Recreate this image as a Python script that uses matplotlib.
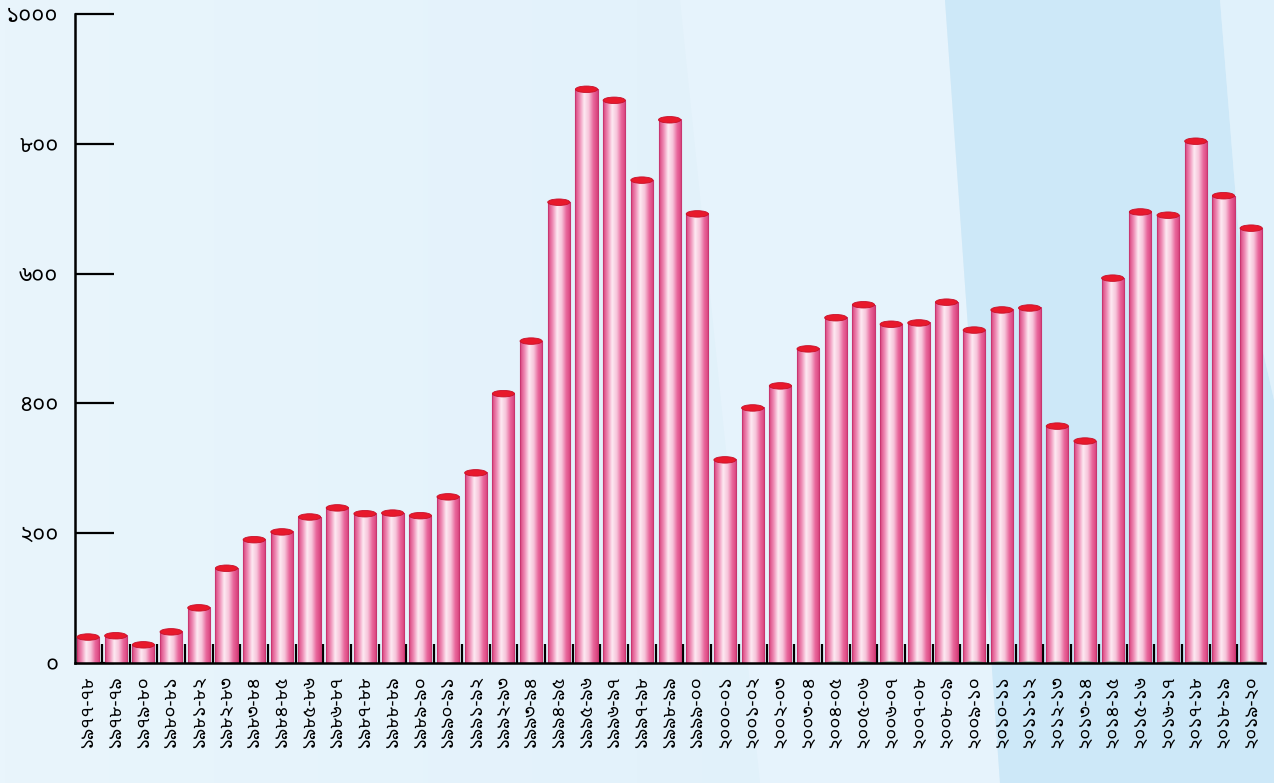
import numpy as np
import matplotlib
matplotlib.use("Agg")
import matplotlib.pyplot as plt
from matplotlib import font_manager
from matplotlib.ft2font import FT2Font
from matplotlib.colors import LinearSegmentedColormap
from matplotlib.patches import Ellipse, Polygon

# years shown as Bengali digits
start_years = list(range(1977, 2020))
values = [40, 42, 28, 48, 85, 146, 190, 202, 225, 239, 230, 231, 227, 256, 293,
          415, 496, 710, 884, 867, 744, 837, 692, 313, 393, 427, 484, 532, 552,
          522, 524, 556, 513, 544, 547, 365, 342, 593, 695, 690, 804, 720, 670]
y_ticks = [0, 200, 400, 600, 800, 1000]

BN = str.maketrans("0123456789", "০১২৩৪৫৬৭৮৯")


def bn(s):
    return str(s).translate(BN)


x_labels = [bn(f"{y}-{(y + 1) % 100:02d}") for y in start_years]

# pick a Bengali font that is installed
names = {f.name for f in font_manager.fontManager.ttflist}
bn_font = None
for cand in ["Noto Sans Bengali", "Noto Sans Bengali UI", "Hind Siliguri",
             "Baloo Da 2", "Noto Serif Bengali"]:
    if cand in names:
        bn_font = cand
        break
if bn_font is None:
    for f in font_manager.fontManager.ttflist:
        try:
            if 0x09E7 in FT2Font(f.fname).get_charmap() and "nifont" not in f.name:
                bn_font = f.name
                break
        except Exception:
            pass
families = [bn_font, "DejaVu Sans"] if bn_font else ["DejaVu Sans"]
plt.rcParams["font.family"] = families

fig = plt.figure(figsize=(12.74, 7.83), dpi=100)

# background
bg = fig.add_axes([0, 0, 1, 1], zorder=-10)
bg.set_xlim(0, 1274)
bg.set_ylim(783, 0)
bg.axis("off")
grad = np.linspace(0, 1, 256)[None, :]
bg_cmap = LinearSegmentedColormap.from_list("bg", ["#e9f5fc", "#e3f2fb", "#d9eefa"])
bg.imshow(grad, cmap=bg_cmap, extent=[0, 1274, 783, 0], aspect="auto")
bg.add_patch(Polygon([[680, 0], [945, 0], [1000, 783], [760, 783]],
                     closed=True, color="#e6f3fc", lw=0))
bg.add_patch(Polygon([[945, 0], [1220, 0], [1240, 250], [1274, 400],
                      [1274, 783], [1000, 783]], closed=True, color="#cde8f8", lw=0))
bg.add_patch(Polygon([[1220, 0], [1274, 0], [1274, 400], [1240, 250]],
                     closed=True, color="#e0f1fb", lw=0))

ax = fig.add_axes([75 / 1274, 1 - 663 / 783, (1265 - 75) / 1274, (663 - 14) / 783])
ax.patch.set_alpha(0)

bar_cmap = LinearSegmentedColormap.from_list(
    "bar", ["#d9417c", "#ee8ab4", "#fde9f2", "#f7c4da", "#e9679c", "#d63f7a"])
w = 0.8
x = np.arange(len(values))
for xi, v in zip(x, values):
    ax.imshow(grad, cmap=bar_cmap, extent=[xi - w / 2, xi + w / 2, 0, v],
              aspect="auto", zorder=2)
    ax.plot([xi - w / 2, xi - w / 2, xi + w / 2, xi + w / 2], [0, v, v, 0],
            color="#c93670", lw=0.8, zorder=3)
    ax.add_patch(Ellipse((xi, v), w, 10, facecolor="#e8192c",
                         edgecolor="#c8102a", lw=0.6, zorder=4))
    # greenish base rim seen on the later bars
    if xi >= 27:
        ax.add_patch(Ellipse((xi, 0), w, 5, facecolor="#2e8b57",
                             edgecolor="none", alpha=0.6, zorder=3))

ax.set_xlim(-0.47, len(values) - 0.5)
ax.set_ylim(0, 1000)

for side in ["top", "right"]:
    ax.spines[side].set_visible(False)
ax.spines["left"].set_linewidth(1.8)
ax.spines["bottom"].set_linewidth(1.8)
ax.spines["bottom"].set_zorder(5)

ax.set_yticks(y_ticks)
ax.set_yticklabels([bn(t) for t in y_ticks], fontsize=16)
ax.tick_params(axis="y", direction="in", length=28, width=1.6, pad=12)

ax.set_xticks(x)
ax.set_xticklabels(x_labels, rotation=90, fontsize=13.5)
ax.tick_params(axis="x", which="major", length=0, pad=9)
ax.set_xticks(x[:-1] + 0.5, minor=True)
ax.tick_params(axis="x", which="minor", direction="in", length=14, width=1.6)

fig.savefig("out.png", dpi=100)
